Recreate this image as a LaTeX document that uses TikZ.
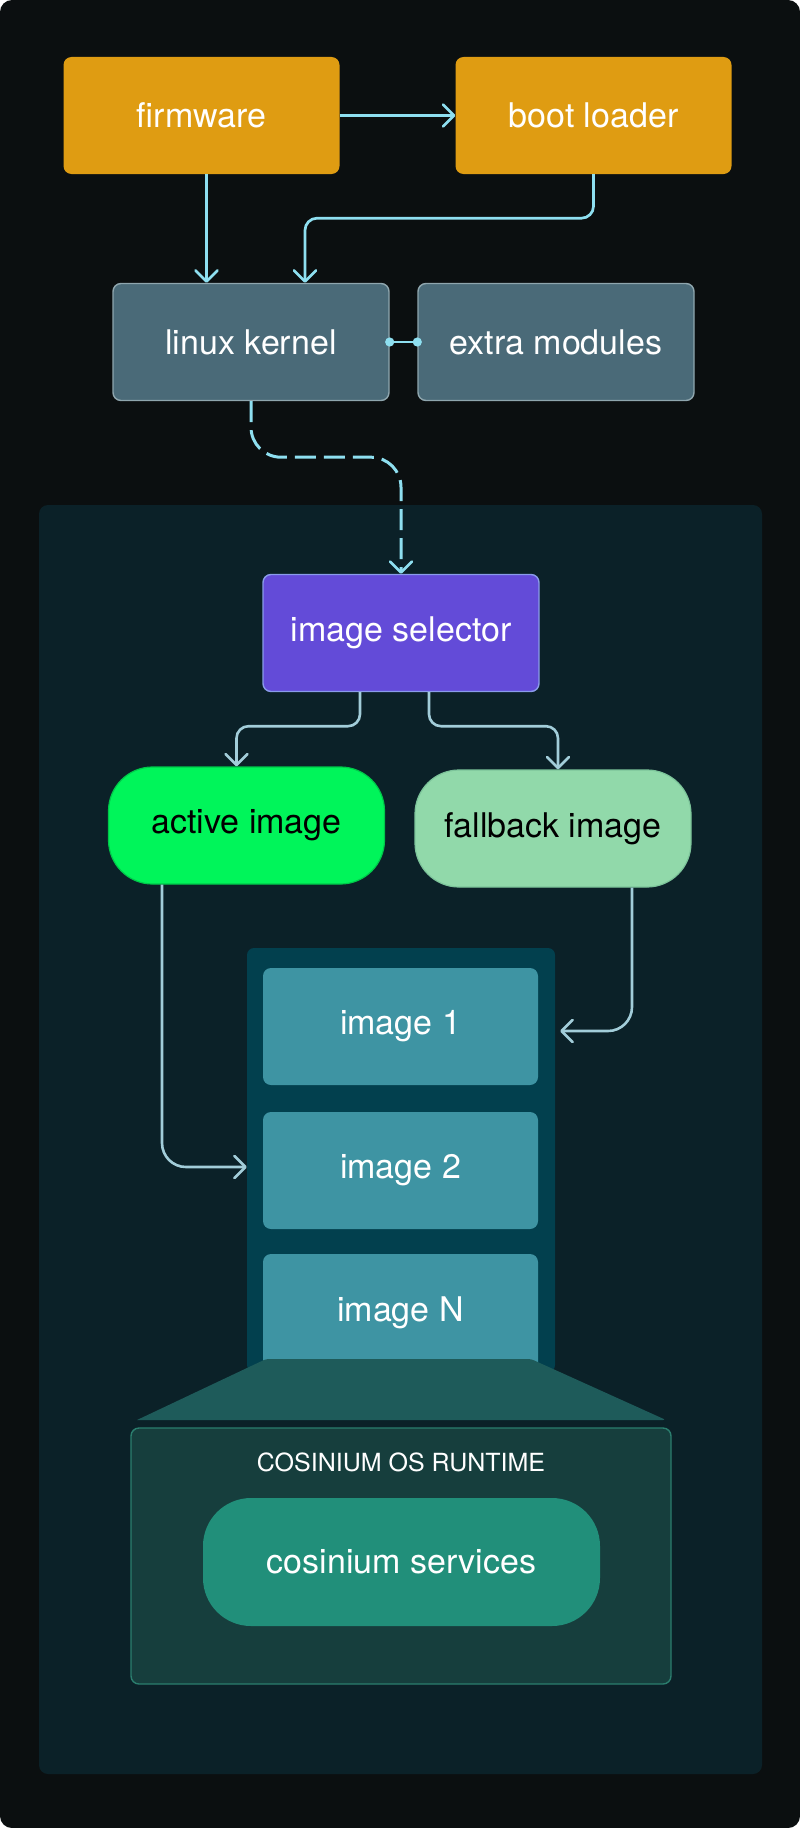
\documentclass[tikz,border=0pt]{standalone}
\usepackage{fontspec}
\setmainfont{TeX Gyre Heros}
\usetikzlibrary{arrows.meta}
\definecolor{outerbg}{HTML}{0B0F10}
\definecolor{panelbg}{HTML}{0B2128}
\definecolor{orangefill}{HTML}{DF9C12}
\definecolor{slatefill}{HTML}{4A6A78}
\definecolor{slateedge}{HTML}{8FA6AE}
\definecolor{purplefill}{HTML}{634BD8}
\definecolor{purpleedge}{HTML}{8A9BEA}
\definecolor{greenfill}{HTML}{00F55A}
\definecolor{greenedge}{HTML}{00C84A}
\definecolor{palegreen}{HTML}{91D9AA}
\definecolor{palegreenedge}{HTML}{7CC49A}
\definecolor{columnfill}{HTML}{02404E}
\definecolor{tilefill}{HTML}{3E94A3}
\definecolor{trapfill}{HTML}{1E5B5A}
\definecolor{runtimefill}{HTML}{163E3D}
\definecolor{runtimeedge}{HTML}{2B7E6E}
\definecolor{servicefill}{HTML}{218F7A}
\definecolor{cyanline}{HTML}{8EDFF0}
\definecolor{paleline}{HTML}{A2CDD9}
\tikzset{
  mainfont/.style={font=\fontsize{34}{40}\selectfont},
  stagebox/.style={rectangle, rounded corners=8pt, minimum width=276pt, minimum height=117pt, inner sep=0pt, mainfont, text=white},
  pillbox/.style={rectangle, rounded corners=44pt, minimum width=276pt, minimum height=117pt, inner sep=0pt, mainfont, text=black, line width=1.2pt},
  tilebox/.style={rectangle, rounded corners=8pt, minimum width=275pt, minimum height=117pt, inner sep=0pt, mainfont, text=white, fill=tilefill},
  arrowtip/.tip={Straight Barb[length=11pt, width=22pt, line width=2.7pt, round]},
  toplink/.style={draw=cyanline, line width=2.7pt, -arrowtip},
  lowlink/.style={draw=paleline, line width=2.6pt, -arrowtip},
}
\begin{document}
\begin{tikzpicture}[x=1pt,y=-1pt]
\useasboundingbox (0,0) rectangle (800,1828);
% outer background
\fill[outerbg, rounded corners=12pt] (0,0) rectangle (800,1828);
% inner panel
\fill[panelbg, rounded corners=9pt] (39,505) rectangle (762,1774);

% top stage
\node[stagebox, fill=orangefill] (fw) at (201.5,115.5) {firmware};
\node[stagebox, fill=orangefill] (bl) at (593.5,115.5) {boot loader};
\node[stagebox, fill=slatefill, draw=slateedge, line width=1.4pt] (lk) at (251,342) {linux kernel};
\node[stagebox, fill=slatefill, draw=slateedge, line width=1.4pt] (em) at (556,342) {extra modules};

\draw[toplink] (fw) -- (bl);
\draw[toplink] ([xshift=5pt]fw.south) -- ([xshift=5pt]fw.south |- lk.north);
\draw[toplink, rounded corners=12pt] (bl.south) -- ++(0,44) -| ([xshift=54pt]lk.north);
\draw[cyanline, line width=2.7pt] (lk.east) -- (em.west);
\fill[cyanline] (lk.east) circle (4.6pt);
\fill[cyanline] (em.west) circle (4.6pt);

% selector
\node[stagebox, fill=purplefill, draw=purpleedge, line width=1.4pt] (is) at (401,633) {image selector};
\draw[toplink, line width=3pt, dash pattern=on 21pt off 8pt, rounded corners=30pt] (lk.south) -- ++(0,56) -| (is.north);

\node[pillbox, fill=greenfill, draw=greenedge] (ai) at (246.5,825.5) {active image};
\node[pillbox, fill=palegreen, draw=palegreenedge] (fb) at (553,828.5) {fallback image};
\draw[lowlink, rounded corners=12pt] ([xshift=-41pt]is.south) -- ++(0,34) -| ([xshift=-10pt]ai.north);
\draw[lowlink, rounded corners=12pt] ([xshift=28pt]is.south) -- ++(0,34) -| ([xshift=5pt]fb.north);

% image column
\node[rectangle, rounded corners=7pt, fill=columnfill, minimum width=308pt, minimum height=424pt, inner sep=0pt] (col) at (401,1160) {};
\node[tilebox] (im1) at (400.5,1026.5) {image 1};
\node[tilebox] (im2) at (400.5,1170.5) {image 2};
\node[tilebox] (imn) at (400.5,1312.5) {image N};

\draw[lowlink, rounded corners=24pt] ([xshift=-84.5pt]ai.south) |- (col.west |- 0,1167);
\draw[lowlink, rounded corners=24pt] ([xshift=79pt]fb.south) |- ([xshift=5pt]col.east |- 0,1031);

% trapezoid
\fill[trapfill, rounded corners=3pt] (266,1359) -- (531,1359) -- (666,1420) [sharp corners] -- (137,1420) [rounded corners=3pt] -- cycle;

% runtime
\node[rectangle, rounded corners=8pt, fill=runtimefill, draw=runtimeedge, line width=1.4pt, minimum width=540pt, minimum height=256pt, inner sep=0pt] (rt) at (401,1556) {};
\node[font=\fontsize{25}{30}\selectfont, text=white, inner sep=0pt] (rtlabel) at (401,1462) {COSINIUM OS RUNTIME};
\node[rectangle, rounded corners=48pt, fill=servicefill, minimum width=397pt, minimum height=128pt, inner sep=0pt, mainfont, text=white] (svc) at (401.5,1562) {cosinium services};
\end{tikzpicture}
\end{document}
